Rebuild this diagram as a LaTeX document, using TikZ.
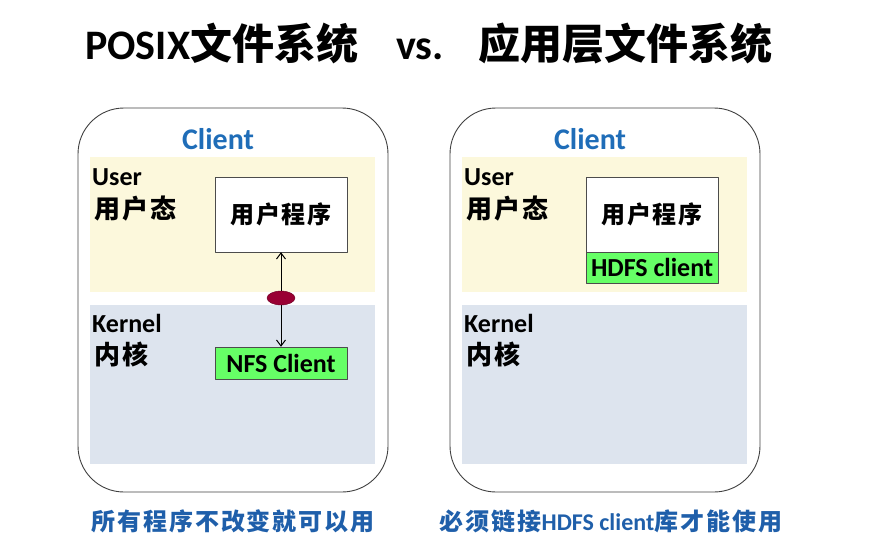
\documentclass[tikz,border=0pt]{standalone}
\usepackage{fontspec}
\setmainfont{Carlito}
\newfontfamily\cjk{Noto Sans CJK SC}
\newfontfamily\cjksp[LetterSpace=8]{Noto Sans CJK SC}
\usetikzlibrary{positioning,shapes.geometric,arrows.meta}
\definecolor{userbg}{HTML}{FCF8DC}
\definecolor{kernbg}{HTML}{DDE4EE}
\definecolor{clientblue}{HTML}{1F6DB8}
\definecolor{notblue}{HTML}{1F5FAA}
\definecolor{libgreen}{HTML}{66FF66}
\definecolor{gatered}{HTML}{990033}
\begin{document}
\begin{tikzpicture}[x=1pt, y=-1pt, font=\bfseries, line join=round, >={Straight Barb[length=6pt,width=9pt,line width=1pt]},
	outer/.style={draw=black!75, line width=0.9pt, rounded corners=46pt},
	titlelbl/.style={anchor=base west, inner sep=0pt, font=\fontsize{42}{46}\selectfont\bfseries},
	clientlbl/.style={text=clientblue, font=\fontsize{30}{32}\selectfont\bfseries},
	zonelbl/.style={anchor=west, inner sep=0pt, font=\fontsize{26}{28}\selectfont\bfseries},
	prog/.style={draw=black!70, fill=white, minimum width=132pt, minimum height=75pt, inner sep=0pt, font=\fontsize{24}{26}\selectfont\bfseries},
	lib/.style={draw=black!70, fill=libgreen, minimum width=132pt, minimum height=32pt, inner sep=0pt, font=\fontsize{26}{28}\selectfont\bfseries},
	gate/.style={ellipse, fill=gatered, draw=gatered!70!black, minimum width=28pt, minimum height=14pt, inner sep=0pt},
	link/.style={->, line width=1pt},
	note/.style={text=notblue, font=\fontsize{24}{26}\selectfont\bfseries}]
	\useasboundingbox (0,0) rectangle (888,546);
	% title
	\node[titlelbl] (posix) at (85,59) {POSIX{\cjk 文件系统}};
	\node[titlelbl] (vs) at (396,59) {vs.};
	\node[titlelbl] (appfs) at (478,59) {\cjk 应用层文件系统};
	% left: POSIX
	\draw[outer] (78,108) rectangle (388,492);
	\fill[userbg] (90,157) rectangle (375,292);
	\fill[kernbg] (90,305) rectangle (375,464);
	\node[clientlbl] (clientL) at (218,139) {Client};
	\node[zonelbl] (userL) at (92,177) {User};
	\node[zonelbl] (userzhL) at (94,209) {\cjksp 用户态};
	\node[zonelbl] (kernL) at (92,323) {Kernel};
	\node[zonelbl] (kernzhL) at (94,354) {\cjksp 内核};
	\node[prog] (progL) at (281,214.5) {\cjksp 用户程序};
	\node[lib] (nfs) at (281,363) {NFS Client};
	\node[gate] (gateL) at (281,298) {};
	\draw[link] (gateL) -- (progL);
	\draw[link] (gateL) -- (nfs);
	\node[note] (noteL) at (233,521) {\cjksp 所有程序不改变就可以用};
	% right: application level
	\draw[outer] (450,108) rectangle (760,492);
	\fill[userbg] (462,157) rectangle (747,292);
	\fill[kernbg] (462,305) rectangle (747,464);
	\node[clientlbl] (clientR) at (590,139) {Client};
	\node[zonelbl] (userR) at (464,177) {User};
	\node[zonelbl] (userzhR) at (466,209) {\cjksp 用户态};
	\node[zonelbl] (kernR) at (464,323) {Kernel};
	\node[zonelbl] (kernzhR) at (466,354) {\cjksp 内核};
	\node[prog] (progR) at (652,214.5) {\cjksp 用户程序};
	\node[lib, minimum height=31pt, below=0pt of progR] (hdfs) {HDFS client};
	\node[note] (noteR) at (611,521) {{\cjksp 必须链接}HDFS client{\cjksp 库才能使用}};
\end{tikzpicture}
\end{document}
